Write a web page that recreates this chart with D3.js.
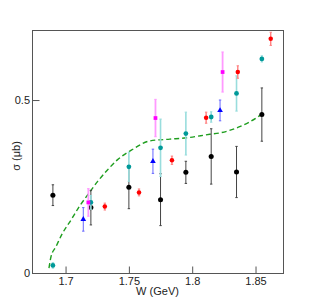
<!DOCTYPE html>
<html>
<head>
<meta charset="utf-8">
<script src="https://cdn.jsdelivr.net/npm/d3@7"></script>
<style>
  body { margin: 0; background: #fff; }
  svg { display: block; font-family: "Liberation Sans", Arial, sans-serif; }
</style>
</head>
<body>
<svg id="chart" width="315" height="304"></svg>
<script>
// data
var blackW = [1.69, 1.72, 1.75, 1.775, 1.795, 1.815, 1.835, 1.855];
var blackS = [0.225, 0.189, 0.248, 0.212, 0.291, 0.337, 0.292, 0.458];
var blackE = [0.03, 0.05, 0.062, 0.075, 0.032, 0.08, 0.074, 0.077];

var tealW = [1.69, 1.72, 1.75, 1.775, 1.795, 1.815, 1.835, 1.855];
var tealS = [0.022, 0.204, 0.307, 0.362, 0.403, 0.451, 0.519, 0.619];
var tealE = [0.008, 0.02, 0.042, 0.083, 0.062, 0.015, 0.051, 0.009];

var redW = [1.731, 1.758, 1.784, 1.811, 1.836, 1.862];
var redS = [0.192, 0.233, 0.326, 0.449, 0.581, 0.677];
var redE = [0.01, 0.01, 0.012, 0.016, 0.018, 0.019];

var blueW = [1.714, 1.769, 1.822];
var blueS = [0.155, 0.323, 0.470];
var blueE = [0.034, 0.035, 0.03];

var magW = [1.718, 1.771, 1.824];
var magS = [0.204, 0.448, 0.581];
var magE = [0.04, 0.054, 0.058];

var curveW = [1.6869, 1.6885, 1.6924, 1.6976, 1.7043, 1.7108, 1.7173, 1.7252, 1.7331, 1.7409,
              1.7528, 1.7667, 1.7824, 1.7956, 1.8139, 1.8218, 1.8375, 1.8454, 1.8546];
var curveS = [0.014, 0.047, 0.076, 0.115, 0.153, 0.192, 0.225, 0.264, 0.298, 0.327,
              0.357, 0.382, 0.387, 0.391, 0.401, 0.405, 0.423, 0.437, 0.458];

var xMajor = [1.7, 1.75, 1.8, 1.85];
var xMinor = [1.68, 1.69, 1.71, 1.72, 1.73, 1.74, 1.76, 1.77, 1.78, 1.79, 1.81, 1.82, 1.83, 1.84, 1.86, 1.87];
var yMajor = [0, 0.5];
var yMinor = [0.1, 0.2, 0.3, 0.4, 0.6];

var svg = d3.select("#chart");
var L = 32, R = 283, T = 30, B = 273;

var x = d3.scaleLinear().domain([1.6735, 1.8717]).range([L, R]);
var y = d3.scaleLinear().domain([0, 0.7025]).range([B, T]);

function zip(w, s, e) {
    return w.map(function(d, i) { return {w: d, s: s[i], e: e ? e[i] : 0}; });
}

// axes
var gx = svg.append("g").attr("transform", "translate(0," + (B + 0.5) + ")");
gx.call(d3.axisBottom(x).tickValues(xMinor).tickSize(-4).tickFormat(""));
gx.call(d3.axisBottom(x).tickValues(xMajor).tickSize(-7).tickPadding(4)
    .tickFormat(function(d) { return String(d); }));

var gy = svg.append("g").attr("transform", "translate(" + (L + 0.5) + ",0)");
gy.call(d3.axisLeft(y).tickValues(yMinor).tickSize(-4).tickFormat(""));
gy.call(d3.axisLeft(y).tickValues(yMajor).tickSize(-7).tickPadding(2.5)
    .tickFormat(function(d) { return String(d); }));

svg.selectAll(".domain").remove();
svg.selectAll(".tick line").attr("stroke", "#555");
svg.selectAll(".tick text").attr("font-size", 11).attr("fill", "#222")
    .attr("font-family", "Liberation Sans, Arial, sans-serif");

svg.append("rect")
    .attr("x", L + 0.5).attr("y", T + 0.5)
    .attr("width", R - L).attr("height", B - T)
    .attr("fill", "none").attr("stroke", "#555").attr("stroke-width", 1);

// titles
svg.append("text")
    .attr("x", (L + R) / 2).attr("y", 295)
    .attr("text-anchor", "middle").attr("font-size", 11).attr("fill", "#222")
    .text("W (GeV)");
svg.append("text")
    .attr("transform", "translate(20,156) rotate(-90)")
    .attr("text-anchor", "middle").attr("font-size", 11).attr("fill", "#222")
    .text("σ (μb)");

// model curve
var line = d3.line()
    .x(function(d) { return x(d.w); })
    .y(function(d) { return y(d.s); })
    .curve(d3.curveMonotoneX);
svg.append("path")
    .datum(zip(curveW, curveS))
    .attr("d", line)
    .attr("fill", "none").attr("stroke", "#1f9e1f")
    .attr("stroke-width", 1.4).attr("stroke-dasharray", "5,3");

function drawSeries(data, barColor, barWidth, markColor, symbol, size) {
    var g = svg.append("g");
    var pts = g.selectAll("g").data(data).enter().append("g");
    pts.append("line")
        .attr("x1", function(d) { return x(d.w); })
        .attr("x2", function(d) { return x(d.w); })
        .attr("y1", function(d) { return y(d.s - d.e); })
        .attr("y2", function(d) { return y(d.s + d.e); })
        .attr("stroke", barColor).attr("stroke-width", barWidth);
    [-1, 1].forEach(function(sign) {
        pts.append("line")
            .attr("x1", function(d) { return x(d.w) - 1.2; })
            .attr("x2", function(d) { return x(d.w) + 1.2; })
            .attr("y1", function(d) { return y(d.s + sign * d.e); })
            .attr("y2", function(d) { return y(d.s + sign * d.e); })
            .attr("stroke", barColor).attr("stroke-width", 1);
    });
    pts.append("path")
        .attr("transform", function(d) { return "translate(" + x(d.w) + "," + y(d.s) + ")"; })
        .attr("d", d3.symbol().type(symbol).size(size))
        .attr("fill", markColor);
}

drawSeries(zip(blackW, blackS, blackE), "#444", 1, "#000", d3.symbolCircle, 20);
drawSeries(zip(tealW, tealS, tealE), "#99dddd", 1.6, "#009999", d3.symbolCircle, 18);
drawSeries(zip(redW, redS, redE), "#ff8080", 1.4, "#ff0000", d3.symbolCircle, 16);
drawSeries(zip(blueW, blueS, blueE), "#6666ff", 1, "#0000ff", d3.symbolTriangle, 14);
drawSeries(zip(magW, magS, magE), "#ff99ff", 1.8, "#ff00ff", d3.symbolSquare, 14);
</script>
</body>
</html>
